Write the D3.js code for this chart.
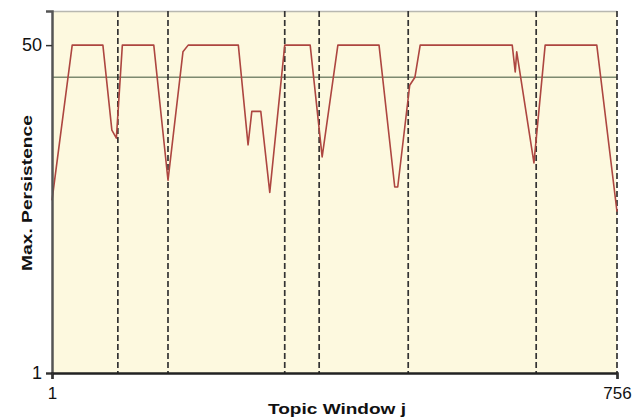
<!DOCTYPE html>
<html>
<head>
<meta charset="utf-8">
<script src="https://cdn.jsdelivr.net/npm/d3@7"></script>
<style>
  body { margin: 0; background: #fff; }
  svg { display: block; }
  .tick text { font-family: "Liberation Sans", Arial, sans-serif; }
</style>
</head>
<body>
<div id="chart"></div>
<script>
// data
var windowJ = [1, 28, 69, 81, 87, 95, 137, 156, 176, 183, 250, 263, 268, 280, 292, 312, 346, 362, 383, 438, 459, 463, 479, 486, 493, 616, 620, 622, 645, 660, 729, 756];
var maxPersistence = [26.8, 50, 50, 37.3, 36.1, 50, 50, 29.8, 49, 50, 50, 35.1, 40.1, 40.1, 28.0, 50, 50, 33.3, 50, 50, 28.8, 28.8, 44.0, 45.2, 50, 50, 46, 49, 32.4, 50, 50, 25.1];
var boundaries = [89, 156, 312, 358, 477, 648, 756];
var threshold = 45.2;
var xTicks = [1, 756];
var yTicks = [1, 50];

var width = 642, height = 420;
var margin = {top: 11, right: 25, bottom: 47, left: 52};
var w = width - margin.left - margin.right;
var h = height - margin.top - margin.bottom;

var svg = d3.select("#chart").append("svg")
    .attr("width", width)
    .attr("height", height);

var g = svg.append("g")
    .attr("transform", "translate(" + margin.left + "," + margin.top + ")");

var x = d3.scaleLinear().domain([1, 756]).range([0, w]);
var y = d3.scaleLinear().domain([1, 55.1]).range([h, 0]);

// plot background
g.append("rect")
    .attr("width", w)
    .attr("height", h)
    .attr("fill", "#fdf9df");

// top border
g.append("line")
    .attr("x1", 0).attr("x2", w)
    .attr("y1", 0.5).attr("y2", 0.5)
    .attr("stroke", "#b8b8b0")
    .attr("stroke-width", 1.5);

// threshold line
g.append("line")
    .attr("x1", 0).attr("x2", w)
    .attr("y1", y(threshold)).attr("y2", y(threshold))
    .attr("stroke", "#7d8a70")
    .attr("stroke-width", 1.3);

// topic boundaries
g.selectAll(".bound")
    .data(boundaries)
    .enter().append("line")
        .attr("class", "bound")
        .attr("x1", d => x(d)).attr("x2", d => x(d))
        .attr("y1", 0).attr("y2", h)
        .attr("stroke", "#333")
        .attr("stroke-width", 1.7)
        .attr("stroke-dasharray", "6,3");

// persistence line
var line = d3.line()
    .x((d, i) => x(windowJ[i]))
    .y(d => y(d));

g.append("path")
    .datum(maxPersistence)
    .attr("d", line)
    .attr("fill", "none")
    .attr("stroke", "#ad4640")
    .attr("stroke-width", 1.6)
    .attr("stroke-linejoin", "round");

// axes
var yAxis = g.append("g")
    .call(d3.axisLeft(y).tickValues(yTicks).tickSize(6).tickFormat(d3.format("d")));
yAxis.select(".domain").attr("stroke", "#555").attr("stroke-width", 2.5);
yAxis.selectAll(".tick line").attr("stroke", "#333").attr("stroke-width", 1.5);
yAxis.selectAll(".tick text")
    .attr("font-size", "18px")
    .attr("fill", "#111")
    .attr("x", -10);

var xAxis = g.append("g")
    .attr("transform", "translate(0," + h + ")")
    .call(d3.axisBottom(x).tickValues(xTicks).tickSize(6).tickFormat(d3.format("d")));
xAxis.select(".domain").attr("stroke", "#222").attr("stroke-width", 2.5);
xAxis.selectAll(".tick line").attr("stroke", "#333").attr("stroke-width", 1.5);
xAxis.selectAll(".tick text")
    .attr("font-size", "17px")
    .attr("fill", "#111")
    .attr("y", 14);

// axis titles
svg.append("text")
    .attr("x", 337)
    .attr("y", 414)
    .attr("text-anchor", "middle")
    .attr("font-family", "Liberation Sans, Arial, sans-serif")
    .attr("font-weight", "bold")
    .attr("font-size", "15px")
    .attr("textLength", 138)
    .attr("lengthAdjust", "spacingAndGlyphs")
    .attr("fill", "#111")
    .text("Topic Window j");

svg.append("text")
    .attr("transform", "translate(32,193) rotate(-90)")
    .attr("text-anchor", "middle")
    .attr("font-family", "Liberation Sans, Arial, sans-serif")
    .attr("font-weight", "bold")
    .attr("font-size", "15px")
    .attr("textLength", 156)
    .attr("lengthAdjust", "spacingAndGlyphs")
    .attr("fill", "#111")
    .text("Max. Persistence");
</script>
</body>
</html>
